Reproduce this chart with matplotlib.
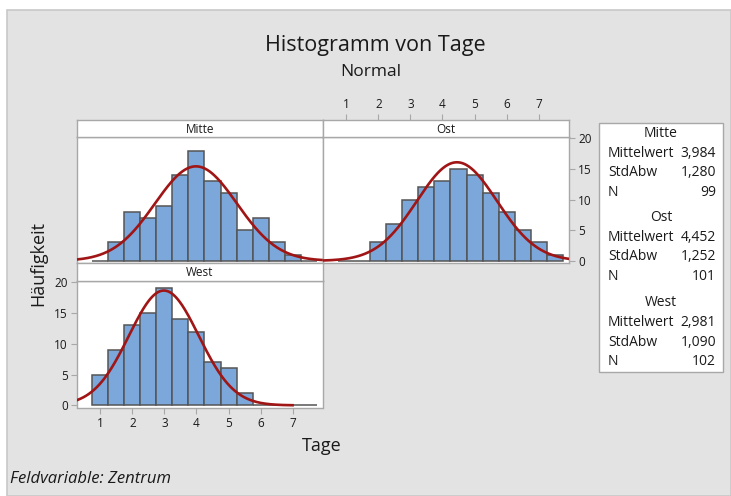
import numpy as np
import matplotlib
matplotlib.use("Agg")
import matplotlib.pyplot as plt
from matplotlib.patches import Rectangle

# ---------------- data ----------------
bin_left = [0.75, 1.25, 1.75, 2.25, 2.75, 3.25, 3.75, 4.25, 4.75, 5.25, 5.75, 6.25, 6.75, 7.25]
bin_width = 0.5
counts_mitte = [0, 3, 8, 7, 9, 14, 18, 13, 11, 5, 7, 3, 1, 0]
counts_ost = [0, 0, 3, 6, 10, 12, 13, 15, 14, 11, 8, 5, 3, 1]
counts_west = [5, 9, 13, 15, 19, 14, 12, 7, 6, 2, 0, 0, 0, 0]
groups = ["Mitte", "Ost", "West"]
means = [3.984, 4.452, 2.981]
stds = [1.280, 1.252, 1.090]
ns = [99, 101, 102]
mean_labels = ["3,984", "4,452", "2,981"]
std_labels = ["1,280", "1,252", "1,090"]
curve_end = [7.95, 7.95, 7.0]
x_ticks = [1, 2, 3, 4, 5, 6, 7]
y_ticks = [0, 5, 10, 15, 20]

# ---------------- style ----------------
plt.rcParams['font.family'] = ['Open Sans', 'DejaVu Sans']
BG = '#e3e3e3'
BAR = '#7ba7da'
EDGE = '#555555'
CURVE = '#a01515'
BORDER = '#a8a8a8'
TXT = '#1a1a1a'
XLIM = (0.27, 7.95)
YLIM = (-0.35, 20.3)

W, H = 731, 496
fig = plt.figure(figsize=(W / 100, H / 100), dpi=100)
fig.patch.set_facecolor('white')
fig.add_artist(Rectangle((7 / W, 0), 1 - 7 / W, 1 - 10 / H, transform=fig.transFigure,
                         facecolor=BG, edgecolor='#c8c8c8', lw=1.2, zorder=-10))


def ax_at(x0, y0, x1, y1):
    return fig.add_axes([x0 / W, 1 - y1 / H, (x1 - x0) / W, (y1 - y0) / H])


def style_box(ax):
    ax.set_facecolor('white')
    for s in ax.spines.values():
        s.set_color(BORDER)
        s.set_linewidth(1.0)
    ax.tick_params(colors=BORDER, labelcolor=TXT, labelsize=8.5, length=4, width=0.8, pad=2.5)
    ax.set_xticks([])
    ax.set_yticks([])


def panel(ax, counts, mu, sd, n, xend):
    style_box(ax)
    ax.bar(bin_left, counts, width=bin_width, align='edge', color=BAR,
           edgecolor=EDGE, linewidth=1.1, zorder=2)
    xs = np.linspace(XLIM[0], xend, 400)
    ys = n * bin_width * np.exp(-0.5 * ((xs - mu) / sd) ** 2) / (sd * np.sqrt(2 * np.pi))
    ax.plot(xs, ys, color=CURVE, lw=1.9, zorder=3, clip_on=True)
    ax.set_xlim(*XLIM)
    ax.set_ylim(*YLIM)


def header(ax, label):
    style_box(ax)
    ax.set_xlim(*XLIM)
    ax.text(0.5, 0.45, label, transform=ax.transAxes, ha='center', va='center',
            fontsize=8.5, color=TXT)


# panel coordinates (pixels)
L, M, R = 77, 323, 569
hM_top, hM_bot, pM_bot = 120, 136.5, 263
hW_bot, pW_bot = 280.5, 407.5

# Mitte
ax_m = ax_at(L, hM_bot, M, pM_bot)
panel(ax_m, counts_mitte, means[0], stds[0], ns[0], curve_end[0])
hm = ax_at(L, hM_top, M, hM_bot)
header(hm, "Mitte")

# Ost
ax_o = ax_at(M, hM_bot, R, pM_bot)
panel(ax_o, counts_ost, means[1], stds[1], ns[1], curve_end[1])
ax_o.yaxis.tick_right()
ax_o.set_yticks(y_ticks)
ax_o.set_yticklabels([str(v) for v in y_ticks])
ho = ax_at(M, hM_top, R, hM_bot)
header(ho, "Ost")
ho.xaxis.tick_top()
ho.set_xticks(x_ticks)
ho.set_xticklabels([str(v) for v in x_ticks])

# West
ax_w = ax_at(L, hW_bot, M, pW_bot)
panel(ax_w, counts_west, means[2], stds[2], ns[2], curve_end[2])
ax_w.set_yticks(y_ticks)
ax_w.set_yticklabels([str(v) for v in y_ticks])
ax_w.set_xticks(x_ticks)
ax_w.set_xticklabels([str(v) for v in x_ticks])
hw = ax_at(L, pM_bot, M, hW_bot)
header(hw, "West")

# titles
fig.text(375 / W, 1 - 45 / H, "Histogramm von Tage", ha='center', va='center',
         fontsize=15.5, color=TXT)
fig.text(371 / W, 1 - 72 / H, "Normal", ha='center', va='center', fontsize=12.5, color=TXT)
fig.text(38 / W, 1 - 264 / H, "Häufigkeit", ha='center', va='center', rotation=90,
         fontsize=13, color=TXT)
fig.text(322 / W, 1 - 446 / H, "Tage", ha='center', va='center', fontsize=13, color=TXT)
fig.text(10 / W, 1 - 479 / H, "Feldvariable: Zentrum", ha='left', va='center',
         fontsize=12, style='italic', color=TXT)

# legend box
fig.add_artist(Rectangle((598.5 / W, 1 - 372 / H), (723 - 598.5) / W, (372 - 122.5) / H,
                         transform=fig.transFigure, facecolor='white',
                         edgecolor=BORDER, lw=1.0, zorder=5))
block_y = [133.3, 217.3, 302.7]
for i, g in enumerate(groups):
    y0 = block_y[i]
    fig.text(661 / W, 1 - y0 / H, g, ha='center', va='center', fontsize=10, color=TXT, zorder=6)
    rows = [("Mittelwert", mean_labels[i]), ("StdAbw", std_labels[i]), ("N", str(ns[i]))]
    for j, (k, v) in enumerate(rows):
        yy = y0 + 20 + 19.5 * j
        fig.text(608 / W, 1 - yy / H, k, ha='left', va='center', fontsize=10, color=TXT, zorder=6)
        fig.text(716 / W, 1 - yy / H, v, ha='right', va='center', fontsize=10, color=TXT, zorder=6)

fig.savefig("out.png", dpi=100, facecolor=fig.get_facecolor())
